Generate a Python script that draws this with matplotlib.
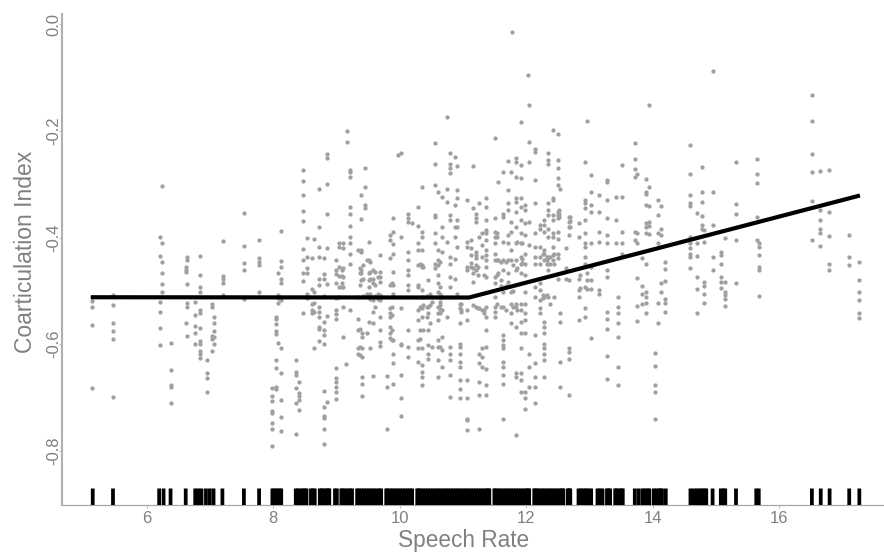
import matplotlib
matplotlib.use("Agg")
import matplotlib.pyplot as plt

plt.rcParams['font.family'] = ['Liberation Sans', 'DejaVu Sans']

columns_slow = [
 (5.14,[-.512,-.519,-.530,-.564,-.682]),
 (5.465,[-.508,-.527,-.560,-.576,-.591,-.699]),
 (6.22,[-.398,-.435,-.520,-.540,-.569,-.602]),
 (6.245,[-.304,-.410,-.445,-.466,-.488,-.502]),
 (6.38,[-.597,-.649,-.677,-.681,-.711]),
 (6.635,[-.437,-.442,-.487,-.522,-.530,-.585]),
 (6.62,[-.455,-.460,-.464,-.561]),
 (6.77,[-.520,-.545,-.566,-.580,-.599]),
 (6.85,[-.434,-.470,-.493,-.502,-.536,-.542,-.569,-.594,-.599,-.612,-.619,-.626]),
 (6.95,[-.629,-.655,-.664,-.690]),
 (7.03,[-.525,-.531,-.585,-.591,-.612]),
 (7.06,[-.550,-.561,-.575,-.599,-.586]),
 (7.21,[-.407,-.472,-.478,-.486,-.507]),
 (7.54,[-.354,-.415,-.448,-.460,-.515]),
 (7.78,[-.405,-.439,-.445,-.452,-.502]),
 (8.04,[-.549,-.552,-.563,-.575,-.581,-.629,-.645,-.680,-.685]),
 (7.99,[-.682,-.697,-.706,-.725,-.730,-.749,-.760,-.791]),
 (8.08,[-.466,-.508,-.513,-.522,-.597]),
 (8.12,[-.387,-.444,-.455,-.478,-.486,-.517,-.607,-.654,-.704,-.737,-.763]),
 (8.37,[-.629,-.652,-.658,-.682,-.710,-.768]),
 (8.41,[-.671,-.691,-.697,-.704,-.723]),
 (8.475,[-.273,-.294,-.321,-.350,-.368,-.421,-.443,-.467,-.481,-.541]),
 (8.53,[-.400,-.437,-.457,-.467,-.506,-.514]),
 (8.61,[-.439,-.497,-.524,-.536,-.542]),
 (8.65,[-.403,-.503,-.608,-.522,-.539]),
 (8.73,[-.309,-.380,-.418,-.437,-.477,-.489,-.530,-.539,-.549,-.567,-.572,-.594]),
 (8.80,[-.438,-.468,-.477,-.509,-.558,-.574,-.583,-.599,-.688,-.718,-.735,-.739,-.759,-.788]),
 (8.86,[-.243,-.250,-.299,-.356,-.419,-.487,-.547,-.708]),
 (8.99,[-.443,-.461,-.468,-.486,-.514,-.536,-.544,-.552,-.644,-.664,-.671,-.680,-.689,-.703]),
 (9.05,[-.411,-.418,-.455,-.473,-.492,-.511]),
]

columns_middle = [
 (9.11,[-.411,-.420,-.458,-.474,-.492,-.530,-.586]),
 (9.15,[-.638]),
 (9.175,[-.199,-.221]),
 (9.22,[-.273,-.276,-.287,-.342,-.355,-.378,-.398,-.411,-.430,-.449,-.536]),
 (9.35,[-.424,-.511,-.552,-.574,-.608,-.618]),
 (9.385,[-.320,-.366,-.424,-.427,-.461,-.467,-.480]),
 (9.40,[-.580,-.586,-.608,-.624,-.661,-.674,-.698]),
 (9.45,[-.269,-.305,-.339,-.345]),
 (9.51,[-.408,-.442,-.467,-.480,-.492,-.511,-.558]),
 (9.585,[-.461,-.477,-.486,-.517,-.539,-.561,-.660]),
 (9.69,[-.433,-.464,-.474,-.483,-.508,-.517,-.549,-.574,-.596,-.604]),
 (9.80,[-.680,-.660,-.759]),
 (9.85,[-.405,-.395,-.439,-.489,-.533,-.542,-.549,-.567,-.580,-.589]),
 (9.90,[-.363,-.389,-.412,-.430,-.464,-.489,-.505,-.593,-.618,-.636,-.674]),
 (9.97,[-.245]),
 (10.03,[-.242,-.398,-.533,-.599,-.602,-.658,-.702,-.735]),
 (10.14,[-.355,-.364,-.370,-.427,-.442,-.461,-.470,-.489,-.499,-.574,-.605,-.624]),
 (10.19,[-.373]),
 (10.29,[-.342,-.378,-.411,-.424,-.452,-.489,-.492,-.536,-.555,-.593,-.608,-.633]),
 (10.35,[-.305,-.389,-.398,-.424,-.452,-.455,-.499,-.511,-.533,-.549,-.608,-.640,-.652,-.661,-.677]),
 (10.455,[-.480,-.530,-.542,-.574,-.602,-.618,-.627]),
 (10.56,[-.223,-.261,-.302,-.358,-.361,-.392,-.411,-.449,-.458]),
 (10.61,[-.314,-.424,-.442,-.452,-.470,-.486,-.502,-.530,-.542,-.555,-.593,-.605,-.630,-.661]),
 (10.67,[-.323,-.380,-.398,-.427,-.511,-.536,-.586,-.611,-.643]),
 (10.745,[-.174,-.308,-.333,-.408,-.549]),
 (10.80,[-.242,-.261,-.270,-.278,-.358,-.367,-.436,-.449,-.474,-.492,-.605,-.618,-.630,-.658,-.699]),
 (10.88,[-.248,-.339,-.380,-.398,-.441,-.477]),
 (10.91,[-.266,-.311,-.326,-.367,-.380,-.417,-.505]),
 (10.955,[-.524,-.533,-.561,-.599,-.605,-.618,-.633,-.643,-.668,-.684,-.702]),
 (11.06,[-.330,-.408,-.417,-.455,-.461,-.536,-.555,-.668,-.702,-.743,-.762,-.740]),
 (11.155,[-.266,-.345,-.458,-.467,-.483,-.527]),
 (11.21,[-.355,-.364,-.370,-.427,-.433,-.439,-.452,-.461,-.530]),
 (11.26,[-.336,-.398,-.533,-.618,-.636,-.671,-.696,-.759]),
 (11.30,[-.392,-.414,-.436,-.536,-.608,-.624,-.643]),
 (11.37,[-.326,-.342,-.367,-.386,-.392,-.405,-.424,-.433,-.442,-.455,-.474,-.530,-.549,-.574,-.605,-.646,-.677,-.696]),
 (11.51,[-.214,-.364,-.389,-.398,-.411,-.430,-.442,-.474,-.486,-.511,-.530,-.539,-.549]),
 (11.55,[-.295,-.442,-.467]),
 (11.64,[-.276,-.355,-.361,-.408,-.442,-.461,-.502,-.530,-.583,-.593,-.602,-.608,-.633,-.643,-.658,-.674,-.740]),
 (11.71,[-.256,-.311,-.336,-.349,-.395,-.411,-.442,-.467,-.483]),
 (11.77,[-.276,-.370,-.389,-.424,-.442,-.502,-.524,-.542,-.561]),
 (11.78,[-.014]),
 (11.835,[-.251,-.258,-.286,-.326,-.333,-.352,-.380,-.411,-.442,-.461,-.524,-.530,-.567,-.655,-.661,-.770]),
 (11.915,[-.183,-.264,-.289,-.326,-.342,-.367,-.392,-.411,-.436,-.449,-.467,-.524,-.536,-.558,-.580,-.608,-.655,-.668,-.690]),
 (11.98,[-.339,-.349,-.373,-.395,-.430,-.449,-.471,-.502,-.524,-.542,-.555,-.580,-.690,-.702,-.721]),
 (12.03,[-.095]),
 (12.04,[-.152,-.221,-.259,-.370,-.414,-.618,-.643,-.680]),
 (12.14,[-.233,-.239,-.291,-.336,-.392,-.417,-.436,-.449,-.492,-.511,-.583,-.636,-.661,-.680,-.710]),
 (12.22,[-.377,-.383,-.417,-.436,-.449,-.486,-.499,-.517,-.533,-.542]),
 (12.285,[-.367,-.377,-.389,-.424,-.430,-.442,-.511,-.558,-.567,-.580,-.599,-.608,-.618,-.630,-.661]),
 (12.35,[-.242,-.254,-.261,-.336,-.349,-.358,-.383,-.398,-.436,-.449,-.461,-.511]),
 (12.43,[-.198,-.326,-.330,-.358,-.367,-.392,-.398,-.417,-.433,-.442]),
 (12.51,[-.206,-.254,-.270,-.289,-.301,-.352,-.358,-.364,-.389,-.402,-.430,-.439,-.477]),
 (12.54,[-.308,-.542,-.558,-.633,-.680]),
 (12.63,[-.420,-.458,-.477]),
 (12.685,[-.361,-.370,-.380,-.395,-.480,-.608,-.614,-.627,-.696]),
 (12.84,[-.372,-.398,-.477,-.499,-.511,-.555]),
 (12.93,[-.258,-.330,-.336,-.345,-.367,-.392,-.411,-.417,-.436,-.449,-.492,-.533,-.549]),
 (12.96,[-.181]),
 (13.02,[-.283,-.314,-.339,-.352,-.411,-.455,-.480,-.496,-.588]),
 (13.15,[-.320,-.352,-.389,-.408,-.499,-.505]),
 (13.275,[-.291,-.295,-.330,-.364,-.395,-.411,-.461,-.474,-.539,-.552,-.571,-.623,-.665]),
 (13.42,[-.323,-.367,-.411]),
 (13.45,[-.511,-.530,-.542,-.561,-.586,-.643,-.677]),
]

columns_dense = [
 (9.09,[-.461,-.473,-.486,-.492]),
 (9.375,[-.458,-.467,-.489,-.571,-.605,-.621]),
 (9.43,[-.452,-.477,-.510]),
 (9.48,[-.442,-.505,-.580]),
 (9.53,[-.445,-.464,-.477,-.505,-.515,-.608]),
 (9.62,[-.464,-.489,-.510,-.530]),
 (9.66,[-.474,-.505,-.515]),
 (9.875,[-.486,-.530,-.545,-.574,-.592]),
 (10.32,[-.449,-.530,-.574,-.591]),
 (10.375,[-.455,-.574,-.527]),
 (10.43,[-.530,-.510,-.549]),
 (10.48,[-.527,-.505,-.560]),
 (10.51,[-.605,-.520]),
 (10.64,[-.445,-.492,-.505,-.512,-.520,-.527,-.535,-.542,-.605]),
 (10.98,[-.524,-.536,-.540]),
 (11.13,[-.405,-.420,-.432,-.447,-.455]),
 (11.24,[-.455,-.470,-.533]),
 (11.33,[-.536,-.542,-.470]),
 (11.54,[-.392,-.398,-.442,-.470,-.524]),
 (11.60,[-.445,-.480,-.530,-.490]),
 (11.68,[-.445,-.536,-.490]),
 (11.80,[-.452,-.500,-.530]),
 (11.86,[-.408,-.458,-.536]),
 (11.94,[-.411,-.440,-.447]),
 (12.27,[-.430,-.514,-.508]),
 (12.33,[-.436,-.442,-.449,-.508]),
 (12.38,[-.436,-.449,-.524]),
 (12.44,[-.430,-.449,-.511]),
 (12.52,[-.348,-.355,-.361]),
 (12.70,[-.361,-.368,-.380]),
 (12.85,[-.495,-.470]),
 (12.97,[-.467,-.480,-.496]),
]

columns_fast = [
 (13.52,[-.263,-.323,-.389,-.411,-.430]),
 (13.73,[-.223,-.252,-.272,-.287,-.389,-.405]),
 (13.76,[-.280,-.392,-.411,-.475,-.528,-.557]),
 (13.84,[-.439,-.490,-.505,-.524]),
 (13.90,[-.290,-.314,-.318,-.339,-.373,-.380,-.391,-.449,-.502,-.512,-.522,-.541]),
 (13.95,[-.152,-.305,-.341,-.370,-.378,-.394]),
 (14.04,[-.616,-.641,-.677,-.690,-.740]),
 (14.08,[-.330,-.357,-.391,-.411,-.522,-.560]),
 (14.135,[-.340,-.383,-.395,-.485,-.502]),
 (14.20,[-.445,-.459,-.482,-.516,-.522,-.540]),
 (14.60,[-.226,-.281,-.321,-.335,-.341,-.398,-.411,-.420,-.430,-.436,-.458]),
 (14.71,[-.353,-.410,-.435,-.474,-.497,-.541]),
 (14.79,[-.268,-.315,-.334,-.360,-.377,-.383]),
 (14.82,[-.386,-.409,-.483,-.491,-.505,-.522]),
 (14.95,[-.087,-.315,-.377,-.437,-.461]),
 (15.09,[-.427,-.432,-.450,-.474,-.483,-.494]),
 (15.14,[-.400,-.484,-.502,-.508,-.516,-.529]),
 (15.32,[-.258,-.337,-.356,-.405,-.486]),
 (15.66,[-.253,-.281,-.297,-.361,-.405]),
 (15.68,[-.411,-.417,-.432,-.455,-.460,-.510]),
 (16.52,[-.133,-.181,-.244,-.277,-.332,-.405]),
 (16.65,[-.275,-.348,-.367,-.383,-.392,-.415]),
 (16.79,[-.274,-.352,-.397,-.450,-.460]),
 (17.10,[-.395,-.436,-.452]),
 (17.27,[-.446,-.480,-.502,-.517,-.541,-.551]),
]

rug_rates = [
 5.15,5.47,6.20,6.27,6.38,6.62,6.77,6.82,6.87,6.94,7.00,7.06,7.20,7.54,7.78,
 7.99,8.02,8.06,8.10,8.13,8.36,8.39,8.43,8.47,8.50,8.53,8.60,8.63,8.66,
 8.74,8.77,8.80,8.84,8.87,8.89,8.98,9.01,9.08,9.10,9.14,9.18,9.22,9.25,
 9.33,9.36,9.40,9.44,9.48,9.52,9.56,9.60,9.64,9.68,9.71,
 9.79,9.81,9.85,9.89,9.93,9.97,10.01,10.05,10.09,10.13,10.17,10.20,
 10.28,10.30,10.33,10.37,10.41,10.45,10.49,10.53,10.57,10.61,10.65,10.69,10.73,10.77,
 10.81,10.85,10.89,10.93,10.97,11.01,11.05,11.09,11.13,11.17,11.21,11.25,11.29,11.33,11.37,11.40,11.42,
 11.50,11.52,11.56,11.60,11.64,11.68,11.72,11.76,11.80,11.84,11.88,11.92,11.96,12.00,12.03,12.05,
 12.13,12.15,12.18,12.22,12.26,12.30,12.34,12.38,12.42,12.46,12.50,12.54,12.57,12.59,
 12.66,12.68,12.70,12.83,12.87,12.91,12.95,12.99,13.03,13.13,13.17,13.21,
 13.28,13.30,13.33,13.41,13.43,13.47,13.51,13.53,13.72,13.78,13.84,13.88,13.92,13.95,
 14.02,14.06,14.10,14.13,14.15,14.21,14.60,14.65,14.70,14.74,14.78,14.82,14.85,14.95,
 15.08,15.12,15.15,15.32,15.64,15.68,16.52,16.66,16.80,17.11,17.27,
]

fit_rates = [5.12, 11.10, 17.28]
fit_index = [-.512, -.5125, -.321]

x_ticks = [6, 8, 10, 12, 14, 16]
y_ticks = [0.0, -0.2, -0.4, -0.6, -0.8]
y_tick_labels = ['0.0', '-0.2', '-0.4', '-0.6', '-0.8']

W, H = 884, 554
fig = plt.figure(figsize=(W / 100, H / 100), dpi=100)
L, R, T, B = 62, 884, 14, 505
ax = fig.add_axes([L / W, 1 - B / H, (R - L) / W, (B - T) / H])
ax.set_xlim(4.664, 17.66)
ax.set_ylim(-0.902, 0.0197)

grey = '#808080'
pt_x, pt_y = [], []
for cols in (columns_slow, columns_middle, columns_dense, columns_fast):
    for rate, values in cols:
        pt_x += [rate] * len(values)
        pt_y += values
ax.scatter(pt_x, pt_y, s=9.5, marker='o', color='#a0a0a0', linewidths=0, zorder=2)
ax.plot(fit_rates, fit_index, color='black', lw=3.0, solid_capstyle='butt',
        solid_joinstyle='miter', zorder=3)
rug = ax.vlines(rug_rates, 0.0, 16.5 / (B - T), transform=ax.get_xaxis_transform(),
                color='black', lw=2.7, zorder=3)
rug.set_snap(False)

for side in ('top', 'right'):
    ax.spines[side].set_visible(False)
ax.spines['left'].set_color('#b0b0b0')
ax.spines['left'].set_linewidth(1.5)
ax.spines['bottom'].set_color('#a8a8a8')
ax.spines['bottom'].set_linewidth(0.9)

ax.set_xticks(x_ticks)
ax.set_yticks(y_ticks)
ax.set_yticklabels(y_tick_labels, rotation=90, va='center')
ax.tick_params(axis='x', length=2, width=0.6, color='#b0b0b0', labelcolor=grey,
               labelsize=12, pad=2.5)
ax.tick_params(axis='y', length=2, width=0.6, color='#b0b0b0', labelcolor=grey,
               labelsize=12, pad=-1.5)

fig.text(464 / W, 1 - 541 / H, 'Speech Rate', color=grey, fontsize=16.3,
         ha='center', va='center')
fig.text(26 / W, 1 - 252 / H, 'Coarticulation Index', color=grey, fontsize=16.5,
         rotation=90, ha='center', va='center')

fig.savefig('out.png', dpi=100, facecolor='white')
